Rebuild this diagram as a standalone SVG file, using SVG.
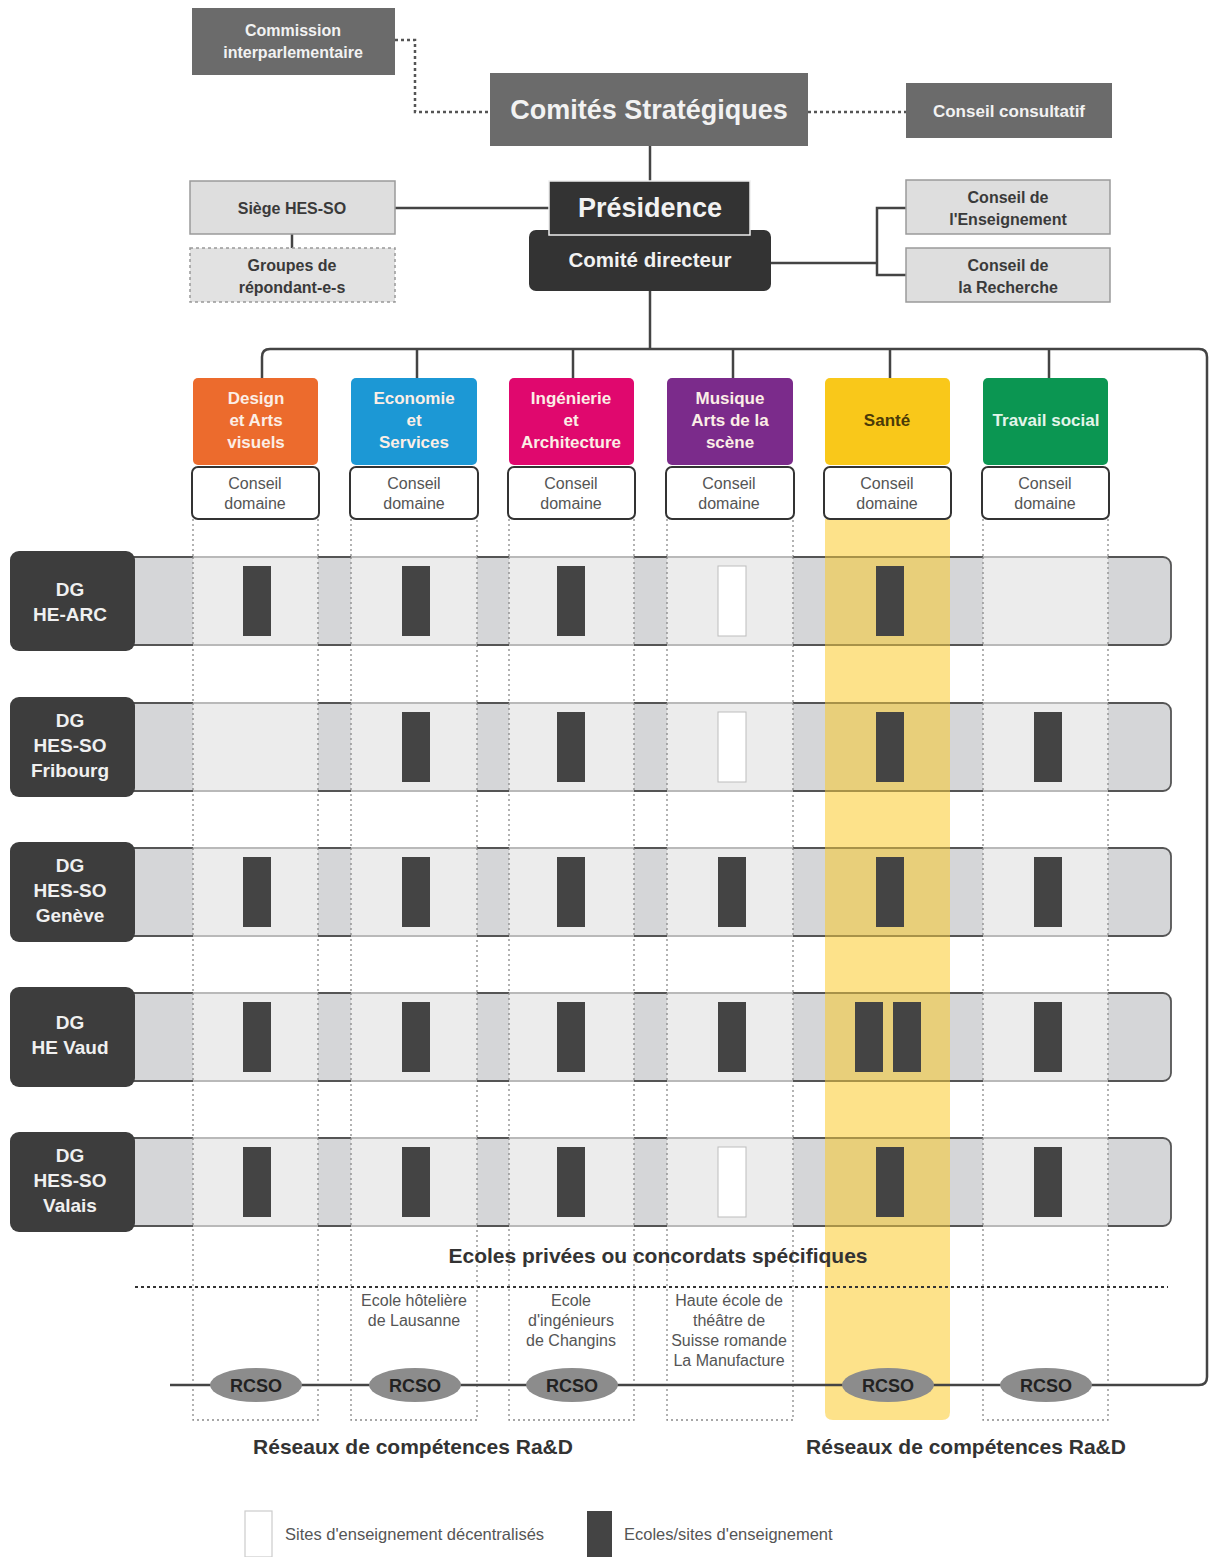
<svg xmlns="http://www.w3.org/2000/svg" width="1210" height="1557" viewBox="0 0 1210 1557">
<style>
text{font-family:"Liberation Sans",Arial,sans-serif;text-anchor:middle}
.b{font-weight:bold}
.wt{fill:#f2f2f2;font-weight:bold}
.mid{fill:#6b6b6b}
.lite{fill:#dedede;stroke:#9a9a9a;stroke-width:1.5}
.lt{fill:#3a3a3a;font-weight:bold;font-size:16px}
.cd{fill:#fff;stroke:#333;stroke-width:2}
.cdt{fill:#555;font-size:16px}
.dom{font-weight:bold;font-size:17px;fill:#fbeee6}
.dg{fill:#3d3d3d}
.dgt{fill:#f0f0f0;font-weight:bold;font-size:19px}
.bar{fill:#444}
.wbar{fill:#fff;stroke:#bdbdbd;stroke-width:1}
.col{fill:none;stroke:#8a8a8a;stroke-width:1.3;stroke-dasharray:2 3}
.ln{fill:none;stroke:#444;stroke-width:2.5}
.dot{fill:none;stroke:#555;stroke-width:2.5;stroke-dasharray:3 3}
.rc{fill:#8c8c8c}
.rct{fill:#222;font-weight:bold;font-size:18px}
.sch{fill:#555;font-size:16px}
.cap{fill:#333;font-weight:bold;font-size:21px}
.leg{text-anchor:start;font-size:16.5px;fill:#555}
</style>

<!-- column dotted frames and Santé band -->
<g id="columns">
<path class="col" d="M193 519V1420H318V519"/>
<path class="col" d="M351 519V1420H477V519"/>
<path class="col" d="M509 519V1420H634V519"/>
<path class="col" d="M667 519V1420H793V519"/>
<path class="col" d="M983 519V1420H1108V519"/>
<path d="M825 519H950V1412Q950 1420 942 1420H833Q825 1420 825 1412Z" fill="#fde28a"/>
</g>

<!-- connectors -->
<g id="connectors">
<path class="dot" d="M395 40H415V112H490"/>
<path class="dot" d="M808 112H906"/>
<path class="ln" d="M650 146V181"/>
<path class="ln" d="M395 208H549"/>
<path class="ln" d="M292 234V248"/>
<path class="ln" d="M771 263H877M906 208H877V275H906"/>
<path class="ln" d="M650 291V349"/>
<path class="ln" d="M262 378V357Q262 349 270 349H1199Q1207 349 1207 357V1377Q1207 1385 1199 1385H170"/>
<path class="ln" d="M417 349V378M573 349V378M733 349V378M890 349V378M1049 349V378"/>
<path d="M135 1287H1168" fill="none" stroke="#333" stroke-width="2.2" stroke-dasharray="3 3"/>
</g>

<!-- top nodes -->
<g id="commission"><rect class="mid" x="192" y="8" width="203" height="67"/>
<text class="wt" font-size="16" x="293" y="36">Commission</text>
<text class="wt" font-size="16" x="293" y="58">interparlementaire</text></g>
<g id="comites"><rect class="mid" x="490" y="73" width="318" height="73"/>
<text class="wt" font-size="27" x="649" y="119">Comités Stratégiques</text></g>
<g id="consultatif"><rect class="mid" x="906" y="83" width="206" height="55"/>
<text class="wt" font-size="17" x="1009" y="117">Conseil consultatif</text></g>
<g id="siege"><rect class="lite" x="190" y="181" width="205" height="53"/>
<text class="lt" x="292" y="214">Siège HES-SO</text></g>
<g id="groupes"><rect x="190" y="248" width="205" height="54" fill="#e2e2e2" stroke="#999" stroke-width="1.5" stroke-dasharray="3 3"/>
<text class="lt" x="292" y="271">Groupes de</text>
<text class="lt" x="292" y="293">répondant-e-s</text></g>
<g id="comite-directeur"><rect x="529" y="230" width="242" height="61" rx="7" fill="#333"/>
<text class="wt" font-size="20.5" x="650" y="267">Comité directeur</text></g>
<g id="presidence"><rect x="549" y="181" width="201" height="54" fill="#333" stroke="#eee" stroke-width="1.5"/>
<text class="wt" font-size="27" x="650" y="217">Présidence</text></g>
<g id="conseil-enseignement"><rect class="lite" x="906" y="180" width="204" height="54"/>
<text class="lt" x="1008" y="203">Conseil de</text>
<text class="lt" x="1008" y="225">l'Enseignement</text></g>
<g id="conseil-recherche"><rect class="lite" x="906" y="248" width="204" height="54"/>
<text class="lt" x="1008" y="271">Conseil de</text>
<text class="lt" x="1008" y="293">la Recherche</text></g>

<!-- domains -->
<g id="design"><rect x="193" y="378" width="125" height="87" rx="5" fill="#ec6b2d"/>
<text class="dom" x="256" y="404">Design</text><text class="dom" x="256" y="426">et Arts</text><text class="dom" x="256" y="448">visuels</text>
<rect class="cd" x="192" y="467" width="127" height="52" rx="6"/>
<text class="cdt" x="255" y="489">Conseil</text><text class="cdt" x="255" y="509">domaine</text></g>
<g id="economie"><rect x="351" y="378" width="126" height="87" rx="5" fill="#1c98d5"/>
<text class="dom" x="414" y="404">Economie</text><text class="dom" x="414" y="426">et</text><text class="dom" x="414" y="448">Services</text>
<rect class="cd" x="350" y="467" width="128" height="52" rx="6"/>
<text class="cdt" x="414" y="489">Conseil</text><text class="cdt" x="414" y="509">domaine</text></g>
<g id="ingenierie"><rect x="509" y="378" width="125" height="87" rx="5" fill="#e0086e"/>
<text class="dom" x="571" y="404">Ingénierie</text><text class="dom" x="571" y="426">et</text><text class="dom" x="571" y="448">Architecture</text>
<rect class="cd" x="508" y="467" width="127" height="52" rx="6"/>
<text class="cdt" x="571" y="489">Conseil</text><text class="cdt" x="571" y="509">domaine</text></g>
<g id="musique"><rect x="667" y="378" width="126" height="87" rx="5" fill="#7b2b8b"/>
<text class="dom" x="730" y="404">Musique</text><text class="dom" x="730" y="426">Arts de la</text><text class="dom" x="730" y="448">scène</text>
<rect class="cd" x="666" y="467" width="128" height="52" rx="6"/>
<text class="cdt" x="729" y="489">Conseil</text><text class="cdt" x="729" y="509">domaine</text></g>
<g id="sante"><rect x="825" y="378" width="125" height="87" rx="5" fill="#f9c81a"/>
<text class="dom" x="887" y="426" style="fill:#4a3a08">Santé</text>
<rect class="cd" x="824" y="467" width="127" height="52" rx="6"/>
<text class="cdt" x="887" y="489">Conseil</text><text class="cdt" x="887" y="509">domaine</text></g>
<g id="travail-social"><rect x="983" y="378" width="125" height="87" rx="5" fill="#0b9652"/>
<text class="dom" x="1046" y="426" style="fill:#e3f5ea">Travail social</text>
<rect class="cd" x="982" y="467" width="127" height="52" rx="6"/>
<text class="cdt" x="1045" y="489">Conseil</text><text class="cdt" x="1045" y="509">domaine</text></g>

<defs>
<g id="band">
<rect x="120" y="0" width="1051" height="88" rx="8" fill="#d5d6d8" stroke="#555" stroke-width="1.8"/>
<g fill="#ececec"><rect x="193" y="-1" width="125" height="90"/><rect x="351" y="-1" width="126" height="90"/><rect x="509" y="-1" width="125" height="90"/><rect x="667" y="-1" width="126" height="90"/><rect x="983" y="-1" width="125" height="90"/></g>
<rect x="825" y="-1" width="125" height="90" fill="#e8cf7a"/>
<path d="M193 0H318M351 0H477M509 0H634M667 0H793M983 0H1108M193 88H318M351 88H477M509 88H634M667 88H793M983 88H1108" stroke="#a8a8a8" stroke-width="1.5"/>
<path d="M825 0H950M825 88H950" stroke="#a89248" stroke-width="1.8"/>
<path class="col" d="M193 0V88M318 0V88M351 0V88M477 0V88M509 0V88M634 0V88M667 0V88M793 0V88M983 0V88M1108 0V88"/>
</g>
</defs>

<!-- DG rows -->
<g id="he-arc">
<use href="#band" y="557"/>
<rect class="dg" x="10" y="551" width="125" height="100" rx="9"/>
<text class="dgt" x="70" y="596">DG</text><text class="dgt" x="70" y="621">HE-ARC</text>
<rect class="bar" x="243" y="566" width="28" height="70"/><rect class="bar" x="402" y="566" width="28" height="70"/><rect class="bar" x="557" y="566" width="28" height="70"/><rect class="wbar" x="718" y="566" width="28" height="70"/><rect class="bar" x="876" y="566" width="28" height="70"/>
</g>
<g id="fribourg">
<use href="#band" y="703"/>
<rect class="dg" x="10" y="697" width="125" height="100" rx="9"/>
<text class="dgt" x="70" y="727">DG</text><text class="dgt" x="70" y="752">HES-SO</text><text class="dgt" x="70" y="777">Fribourg</text>
<rect class="bar" x="402" y="712" width="28" height="70"/><rect class="bar" x="557" y="712" width="28" height="70"/><rect class="wbar" x="718" y="712" width="28" height="70"/><rect class="bar" x="876" y="712" width="28" height="70"/><rect class="bar" x="1034" y="712" width="28" height="70"/>
</g>
<g id="geneve">
<use href="#band" y="848"/>
<rect class="dg" x="10" y="842" width="125" height="100" rx="9"/>
<text class="dgt" x="70" y="872">DG</text><text class="dgt" x="70" y="897">HES-SO</text><text class="dgt" x="70" y="922">Genève</text>
<rect class="bar" x="243" y="857" width="28" height="70"/><rect class="bar" x="402" y="857" width="28" height="70"/><rect class="bar" x="557" y="857" width="28" height="70"/><rect class="bar" x="718" y="857" width="28" height="70"/><rect class="bar" x="876" y="857" width="28" height="70"/><rect class="bar" x="1034" y="857" width="28" height="70"/>
</g>
<g id="vaud">
<use href="#band" y="993"/>
<rect class="dg" x="10" y="987" width="125" height="100" rx="9"/>
<text class="dgt" x="70" y="1029">DG</text><text class="dgt" x="70" y="1054">HE Vaud</text>
<rect class="bar" x="243" y="1002" width="28" height="70"/><rect class="bar" x="402" y="1002" width="28" height="70"/><rect class="bar" x="557" y="1002" width="28" height="70"/><rect class="bar" x="718" y="1002" width="28" height="70"/><rect class="bar" x="855" y="1002" width="28" height="70"/><rect class="bar" x="893" y="1002" width="28" height="70"/><rect class="bar" x="1034" y="1002" width="28" height="70"/>
</g>
<g id="valais">
<use href="#band" y="1138"/>
<rect class="dg" x="10" y="1132" width="125" height="100" rx="9"/>
<text class="dgt" x="70" y="1162">DG</text><text class="dgt" x="70" y="1187">HES-SO</text><text class="dgt" x="70" y="1212">Valais</text>
<rect class="bar" x="243" y="1147" width="28" height="70"/><rect class="bar" x="402" y="1147" width="28" height="70"/><rect class="bar" x="557" y="1147" width="28" height="70"/><rect class="wbar" x="718" y="1147" width="28" height="70"/><rect class="bar" x="876" y="1147" width="28" height="70"/><rect class="bar" x="1034" y="1147" width="28" height="70"/>
</g>

<g id="ecoles-privees">
<text class="cap" x="658" y="1263">Ecoles privées ou concordats spécifiques</text>
<text class="sch" x="414" y="1306">Ecole hôtelière</text><text class="sch" x="414" y="1326">de Lausanne</text>
<text class="sch" x="571" y="1306">Ecole</text><text class="sch" x="571" y="1326">d'ingénieurs</text><text class="sch" x="571" y="1346">de Changins</text>
<text class="sch" x="729" y="1306">Haute école de</text><text class="sch" x="729" y="1326">théâtre de</text><text class="sch" x="729" y="1346">Suisse romande</text><text class="sch" x="729" y="1366">La Manufacture</text>
</g>

<g id="rcso">
<ellipse class="rc" cx="256" cy="1385" rx="46" ry="17"/><text class="rct" x="256" y="1392">RCSO</text>
<ellipse class="rc" cx="415" cy="1385" rx="46" ry="17"/><text class="rct" x="415" y="1392">RCSO</text>
<ellipse class="rc" cx="572" cy="1385" rx="46" ry="17"/><text class="rct" x="572" y="1392">RCSO</text>
<ellipse class="rc" cx="888" cy="1385" rx="46" ry="17"/><text class="rct" x="888" y="1392">RCSO</text>
<ellipse class="rc" cx="1046" cy="1385" rx="46" ry="17"/><text class="rct" x="1046" y="1392">RCSO</text>
<text class="cap" x="413" y="1454" font-size="20">Réseaux de compétences Ra&amp;D</text>
<text class="cap" x="966" y="1454" font-size="20">Réseaux de compétences Ra&amp;D</text>
</g>

<g id="legend">
<rect x="245" y="1511" width="27" height="46" fill="#fff" stroke="#ccc" stroke-width="1.2"/>
<text class="leg" x="285" y="1540">Sites d'enseignement décentralisés</text>
<rect x="587" y="1511" width="25" height="46" fill="#444"/>
<text class="leg" x="624" y="1540">Ecoles/sites d'enseignement</text>
</g>
</svg>
